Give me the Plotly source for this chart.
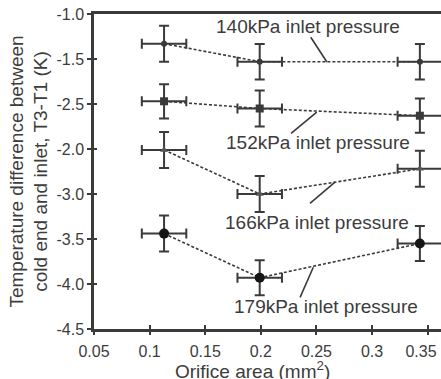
import plotly.graph_objects as go

# ---- data ----
orifice_area = [0.113, 0.199, 0.343]
x_err = [0.02, 0.02, 0.02]

t_140 = [-1.33, -1.53, -1.53]
t_152 = [-1.97, -2.05, -2.13]
t_166 = [-2.51, -3.00, -2.72]
t_179 = [-3.44, -3.93, -3.55]

err_140 = [0.2, 0.197, 0.197]
err_152 = [0.19, 0.2, 0.19]
err_166 = [0.2, 0.2, 0.2]
err_179 = [0.2, 0.195, 0.195]

series_names = ["140kPa inlet pressure", "152kPa inlet pressure",
                "166kPa inlet pressure", "179kPa inlet pressure"]

y_tickvals = [-1.0, -1.5, -2.0, -2.5, -3.0, -3.5, -4.0, -4.5]
y_ticktext = ["-1.0", "-1.5", "-2.5", "-2.0", "-3.0", "-3.5", "-4.0", "-4.5"]
x_tickvals = [0.05, 0.1, 0.15, 0.2, 0.25, 0.3, 0.35]
x_ticktext = ["0.05", "0.1", "0.15", "0.2", "0.25", "0.3", "0.35\u00a0\u00a0\u00a0"]

# ---- styling ----
FONT = "Arial, Liberation Sans, sans-serif"
INK = "#3a3a3a"
TXT = "#3c3c3c"

marker_styles = [
    dict(symbol="circle", size=6, color=INK),
    dict(symbol="square", size=8, color=INK),
    dict(symbol="triangle-up", size=7, color="#555555"),
    dict(symbol="circle", size=10, color="#151515"),
]

fig = go.Figure()
for name, ys, es, ms in zip(series_names, [t_140, t_152, t_166, t_179],
                            [err_140, err_152, err_166, err_179], marker_styles):
    fig.add_trace(go.Scatter(
        x=orifice_area, y=ys, name=name, mode="lines+markers",
        line=dict(color=INK, width=1.6, dash="3px,2px"),
        marker=ms,
        error_y=dict(type="data", array=es, color=INK, thickness=2, width=5),
        error_x=dict(type="data", array=x_err, color=INK, thickness=2, width=5),
        showlegend=False, cliponaxis=True,
    ))

# empty trace to attach the overlay axes (inner half of crossing ticks)
fig.add_trace(go.Scatter(x=[None], y=[None], xaxis="x2", yaxis="y2",
                         showlegend=False, hoverinfo="skip"))

# labels with leader lines (text centre, leader tail, leader head) in data units
label_pos = [
    (0.242, -1.14, 0.2449, -1.259, 0.2594, -1.533),
    (0.2513, -2.43, 0.2272, -2.326, 0.2503, -2.089),
    (0.2503, -3.32, 0.2442, -3.103, 0.2667, -2.867),
    (0.2584, -4.25, 0.2353, -4.148, 0.2472, -3.814),
]
for name, (tx, ty, x0, y0, x1, y1) in zip(series_names, label_pos):
    fig.add_annotation(x=tx, y=ty, xref="x", yref="y", text=name,
                       showarrow=False, font=dict(family=FONT, size=19, color=TXT),
                       xanchor="center", yanchor="middle")
    fig.add_shape(type="line", xref="x", yref="y", x0=x0, y0=y0, x1=x1, y1=y1,
                  line=dict(color=INK, width=1.6))

# x-axis title as annotation (centred as in reference)
fig.add_annotation(x=0.458, y=-0.174, xref="paper", yref="paper",
                   text="Orifice area (mm<sup>2</sup>)", showarrow=False,
                   font=dict(family=FONT, size=19, color=TXT),
                   xanchor="center", yanchor="bottom")

x_range = [0.05, 0.362]
y_range = [-4.5, -1.0]

fig.update_layout(
    width=441, height=379,
    margin=dict(l=94, r=0, t=14, b=50, autoexpand=False),
    paper_bgcolor="white", plot_bgcolor="white",
    font=dict(family=FONT, color=TXT),
    xaxis=dict(range=x_range, tickmode="array", tickvals=x_tickvals, ticktext=x_ticktext,
               ticks="outside", ticklen=3, tickwidth=2, tickcolor=INK,
               showline=True, linewidth=2.5, linecolor=INK, mirror=True,
               showgrid=False, zeroline=False, automargin=False,
               tickfont=dict(family=FONT, size=16, color=TXT),
               ticklabelstandoff=3, ticklabeloverflow="allow"),
    yaxis=dict(range=y_range, tickmode="array", tickvals=y_tickvals, ticktext=y_ticktext,
               ticks="outside", ticklen=4, tickwidth=2, tickcolor=INK,
               showline=True, linewidth=2.5, linecolor=INK, mirror=False,
               showgrid=False, zeroline=False, automargin=False,
               tickfont=dict(family=FONT, size=16, color=TXT),
               ticklabeloverflow="allow",
               title=dict(text="Temperature difference between<br>cold end and inlet, T3-T1 (K)",
                          font=dict(family=FONT, size=19, color=TXT), standoff=4)),
    xaxis2=dict(range=x_range, overlaying="x", tickmode="array", tickvals=x_tickvals,
                ticks="inside", ticklen=4, tickwidth=2, tickcolor=INK, automargin=False,
                showticklabels=False, showline=False, showgrid=False, zeroline=False),
    yaxis2=dict(range=y_range, overlaying="y", tickmode="array", tickvals=y_tickvals,
                ticks="inside", ticklen=3, tickwidth=2, tickcolor=INK, automargin=False,
                showticklabels=False, showline=False, showgrid=False, zeroline=False),
)

fig.write_html(
    "out.html",
    config={"displayModeBar": False},
    post_script="document.body.style.margin='0';document.body.style.overflow='hidden';",
)
